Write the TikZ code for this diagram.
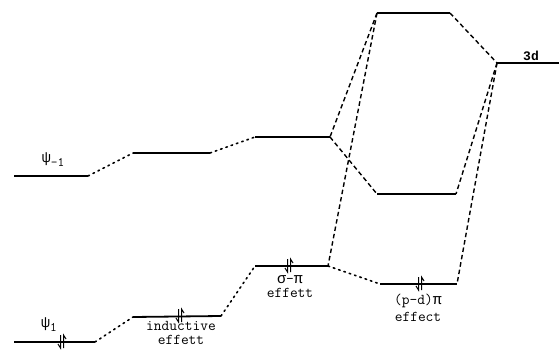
\documentclass[tikz,border=0pt]{standalone}
\usepackage{fontspec}
\newfontfamily\grk{Liberation Mono}
\begin{document}
\begin{tikzpicture}[x=1pt,y=-1pt,
  level/.style={line width=1.8pt},
  link/.style={line width=1.6pt,dash pattern=on 1.6pt off 4pt,line cap=round},
  corr/.style={line width=1.4pt,dash pattern=on 4.5pt off 3pt},
  lab/.style={font=\ttfamily\fontsize{15}{14}\selectfont,inner sep=0pt,align=center},
  spin/.style={line width=1pt}]
\useasboundingbox (0,0) rectangle (559,350);
% level end points
\coordinate (m1a) at (14,176);  \coordinate (m1b) at (88,176);
\coordinate (m2a) at (133,153); \coordinate (m2b) at (210,153);
\coordinate (m3a) at (255,137); \coordinate (m3b) at (330,137);
\coordinate (ta)  at (377,13);  \coordinate (tb)  at (450,13);
\coordinate (da)  at (497,63);  \coordinate (db)  at (559,63);
\coordinate (ua)  at (377,194); \coordinate (ub)  at (456,194);
\coordinate (p1a) at (14,342);  \coordinate (p1b) at (95,342);
\coordinate (ia)  at (133,317); \coordinate (ib)  at (221,316);
\coordinate (sa)  at (255,266); \coordinate (sb)  at (328,266);
\coordinate (pa)  at (380,284); \coordinate (pb)  at (457,284);
% energy levels
\foreach \a/\b in {m1a/m1b,m2a/m2b,m3a/m3b,ta/tb,da/db,ua/ub,p1a/p1b,ia/ib,sa/sb,pa/pb}
  \draw[level] (\a) -- (\b);
% level-to-level correlations
\draw[link] (m1b) -- (m2a);
\draw[link] (m2b) -- (m3a);
\draw[link] (p1b) -- (ia);
\draw[link] (ib) -- (sa);
\draw[link] (sb) -- (pa);
\draw[corr] (ta) -- (m3b);
\draw[corr] (ta) -- (sb);
\draw[corr] (m3b) -- (ua);
\draw[corr] (tb) -- (da);
\draw[corr] (da) -- (ub);
\draw[corr] (da) -- (pb);
% electron pairs
\foreach \x/\y in {62/342,180/316,289/266,420/284}{
  \draw[spin] (\x-1.5,\y-7) -- (\x-1.5,\y+6) -- (\x-4,\y+2);
  \draw[spin] (\x+1.5,\y+6) -- (\x+1.5,\y-7) -- (\x+4,\y-3);
}
% labels
\node[lab] (lm1) at (53,160) {{\grk ψ}\raisebox{-4pt}{\fontsize{13}{14}\selectfont -1}};
\node[lab] (lp1) at (49,325) {{\grk ψ}\raisebox{-4pt}{\fontsize{13}{14}\selectfont 1}};
\node[lab] (lind) at (181,333) {inductive\\effett};
\node[lab] (lsp) at (290,287) {{\grk σ}-{\grk π}\\effett};
\node[lab] (lpd) at (418,308) {(p-d){\grk π}\\[3pt]effect};
\node[lab,font=\grk\bfseries\fontsize{13}{14}\selectfont] (l3d) at (531,56) {3d};
\end{tikzpicture}
\end{document}
